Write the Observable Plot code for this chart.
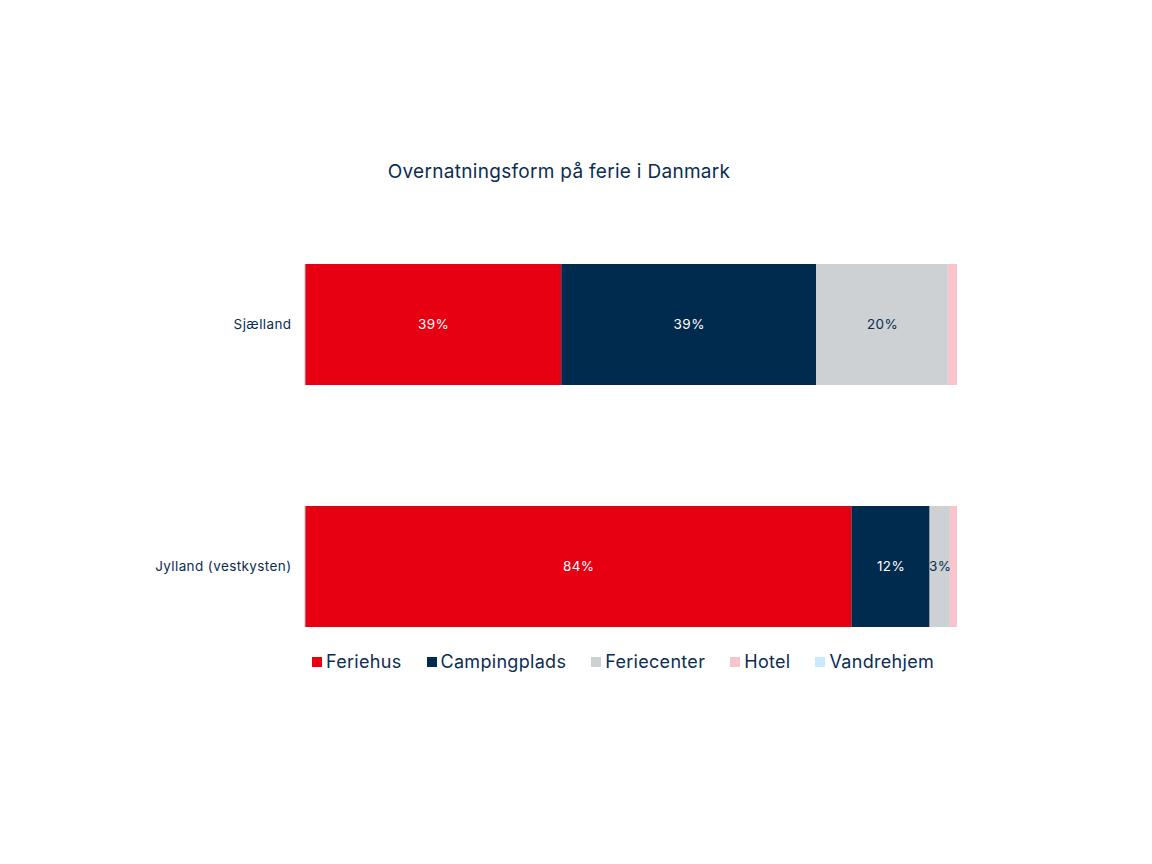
<!DOCTYPE html>
<html>
<head>
<meta charset="utf-8">
<script src="https://cdn.jsdelivr.net/npm/d3@7"></script>
<script src="https://cdn.jsdelivr.net/npm/@observablehq/plot@0.6"></script>
<style>
  html, body { margin: 0; padding: 0; background: #fff; }
  body { width: 1152px; height: 864px; position: relative; font-family: Inter, "Noto Sans", sans-serif; color: #0b2d52; }
  #title { position: absolute; left: 0; width: 1118px; top: 160px; text-align: center; font-size: 19px; color: #0b2d52; letter-spacing: 0.3px; }
  #chart { position: absolute; left: 0; top: 0; }
  #legend { position: absolute; left: 305px; width: 636px; top: 651px; display: flex; justify-content: center; gap: 25px; font-size: 18px; letter-spacing: 0.3px; color: #0b2d52; }
  #legend span.sw { display: inline-block; width: 10px; height: 10px; margin-right: 4px; vertical-align: 1px; }
</style>
</head>
<body>
<div id="title">Overnatningsform på ferie i Danmark</div>
<div id="chart"></div>
<div id="legend"></div>
<script>
const regions = ["Sjælland", "Jylland (vestkysten)"];
const types = ["Feriehus", "Campingplads", "Feriecenter", "Hotel", "Vandrehjem"];
const colors = ["#e60012", "#012a4f", "#cdd1d3", "#f9c4cc", "#c8eafa"];
const sjaelland = [39.3, 39.1, 20.2, 1.4, 0];
const jylland = [83.8, 12.0, 3.1, 1.1, 0];

const data = [];
types.forEach((t, i) => data.push({region: regions[0], type: t, value: sjaelland[i]}));
types.forEach((t, i) => data.push({region: regions[1], type: t, value: jylland[i]}));

const darkText = "#0b2d52";
const chart = Plot.plot({
  width: 1152,
  height: 700,
  marginLeft: 305,
  marginRight: 195,
  marginTop: 239,
  marginBottom: 48,
  style: {fontFamily: "Inter, 'Noto Sans', sans-serif", fontSize: "13.5px", color: darkText, background: "transparent", letterSpacing: "0.4px"},
  x: {domain: [0, 100], axis: null},
  y: {domain: regions, paddingInner: 0.5, paddingOuter: 0.1, label: null, tickSize: 0, tickPadding: 14},
  color: {domain: types, range: colors},
  marks: [
    Plot.barX(data, Plot.stackX({x: "value", y: "region", z: "type", fill: "type", order: types})),
    Plot.tickX(regions, {x: () => 0, y: d => d, stroke: "#b8bcbf", strokeWidth: 1, dx: -0.5}),
    Plot.text(data, Plot.stackX({
      x: "value", y: "region", z: "type", order: types,
      text: d => d.value >= 2.5 ? Math.round(d.value) + "%" : "",
      fill: d => (d.type === "Feriehus" || d.type === "Campingplads") ? "#ffffff" : darkText,
      fontSize: 13.5
    }))
  ]
});
document.getElementById("chart").appendChild(chart);

const legend = document.getElementById("legend");
types.forEach((t, i) => {
  const item = document.createElement("div");
  item.innerHTML = `<span class="sw" style="background:${colors[i]}"></span>${t}`;
  legend.appendChild(item);
});
</script>
</body>
</html>
